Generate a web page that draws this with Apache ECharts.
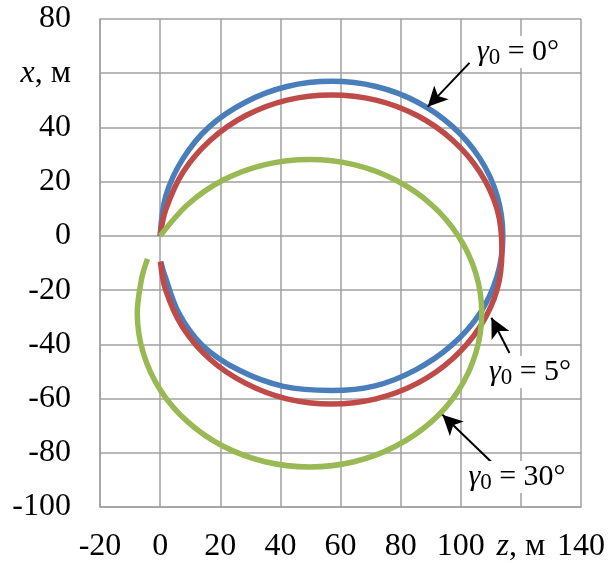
<!DOCTYPE html>
<html>
<head>
<meta charset="utf-8">
<script src="https://cdn.jsdelivr.net/npm/echarts@6/dist/echarts.min.js"></script>
<style>
  html, body { margin: 0; padding: 0; background: #fff; }
  #chart { width: 608px; height: 563px; }
</style>
</head>
<body>
<div id="chart"></div>
<script>
// Axis ranges (z — horizontal, x — vertical), metres
const zRange = [-20, 140];
const xRange = [-100, 80];
const tickStep = 20;

// Turning trajectories, points as [z, x]
const traj0 = [
  [0, 0], [1.9, 14.8], [7.6, 28.5], [16.4, 40.3], [28.5, 49.4], [42.2, 55.1],
  [57, 57], [71.8, 55.1], [85.5, 49.4], [97.3, 40.3], [106.4, 28.5], [112.1, 14.8],
  [114, 0], [112.1, -14.8], [106.4, -28.5], [97, -40.3], [85, -49.4], [71.5, -55.3],
  [57, -57], [41, -55.5], [26, -49.4], [14, -40.3], [6.2, -28.5], [1.6, -14.8], [0.2, -9.5]
];
const traj5 = [
  [0, 0], [1.9, 9.8], [7.6, 23.5], [16.7, 35.3], [28.5, 44.4], [42.2, 50.1],
  [57, 52], [71.8, 50.1], [85.5, 44.4], [97.3, 35.3], [106.4, 23.5], [112.1, 9.8],
  [113.7, -5], [112.1, -19.8], [106.4, -33.5], [97.3, -45.3], [85.5, -54.4], [71.8, -60.1],
  [57, -62], [42.2, -60.1], [28.5, -54.4], [16.4, -45.3], [7.4, -33.5], [1.8, -19.8], [0.1, -9.5]
];
const traj30 = [
  [0, 0], [9.2, 11.6], [21, 20.6], [34.9, 26.3], [49.7, 28.2], [64.5, 26.3],
  [78.3, 20.6], [90.2, 11.6], [99.3, -0.2], [105, -13.8], [107, -28.5], [105, -43.2],
  [99.3, -56.9], [90.2, -68.6], [78.3, -77.6], [64.5, -83.3], [49.7, -85.2], [34.9, -83.3],
  [21, -77.6], [9.2, -68.6], [0.1, -56.9], [-5.6, -43.2], [-7.6, -28.5], [-6.2, -16], [-4.2, -8.5]
];

// Callout arrows: [from, to] in data coordinates
const arrows = [
  [[102.9, 63.8], [89, 47.6]],
  [[116.2, -43.2], [110.2, -30.2]],
  [[110.2, -83.4], [93.9, -66]]
];
const callouts = ['0°', '5°', '30°'];

const serif = 'Liberation Serif, Times New Roman, serif';
const gridColor = '#a0a0a0';

const chart = echarts.init(document.getElementById('chart'), null, { renderer: 'canvas' });

function calloutText(angle, cx, cy) {
  return {
    type: 'text',
    x: cx,
    y: cy,
    z: 100,
    style: {
      text: '{g|γ}{s|0}{n| = ' + angle + '}',
      align: 'center',
      verticalAlign: 'middle',
      backgroundColor: '#fff',
      padding: [0, 3, 0, 3],
      rich: {
        g: { fontFamily: serif, fontSize: 30, fontStyle: 'italic', lineHeight: 32, fill: '#000' },
        s: { fontFamily: serif, fontSize: 23, lineHeight: 21, padding: [11, 0, 0, 0], fill: '#000' },
        n: { fontFamily: serif, fontSize: 30, lineHeight: 32, fill: '#000' }
      }
    }
  };
}

const lineSeries = (name, data, color) => ({
  name,
  type: 'line',
  data,
  showSymbol: false,
  smooth: 0.34,
  lineStyle: { color, width: 5.5 },
  itemStyle: { color },
  z: 3
});

chart.setOption({
  animation: false,
  backgroundColor: '#fff',
  grid: { left: 100, right: 26, top: 19, bottom: 56, containLabel: false },
  xAxis: {
    type: 'value',
    min: zRange[0], max: zRange[1], interval: tickStep,
    axisLine: { show: true, onZero: false, lineStyle: { color: gridColor, width: 1.5 } },
    axisTick: { show: false },
    splitLine: { show: true, lineStyle: { color: gridColor, width: 1.5 } },
    axisLabel: {
      margin: 24,
      fontFamily: serif, fontSize: 32, color: '#000',
      formatter: v => (v === 120 ? '{i|z}, м' : String(v)),
      rich: { i: { fontFamily: serif, fontSize: 32, fontStyle: 'italic', color: '#000' } }
    }
  },
  yAxis: {
    type: 'value',
    min: xRange[0], max: xRange[1], interval: tickStep,
    axisLine: { show: true, onZero: false, lineStyle: { color: gridColor, width: 1.5 } },
    axisTick: { show: false },
    splitLine: { show: true, lineStyle: { color: gridColor, width: 1.5 } },
    axisLabel: {
      margin: 29,
      fontFamily: serif, fontSize: 32, color: '#000',
      formatter: v => (v === 60 ? '{i|x}, м' : String(v)),
      rich: { i: { fontFamily: serif, fontSize: 32, fontStyle: 'italic', color: '#000' } }
    }
  },
  series: [
    lineSeries('γ0 = 0°', traj0, '#4a7ebb'),
    lineSeries('γ0 = 5°', traj5, '#be4b48'),
    lineSeries('γ0 = 30°', traj30, '#98b954'),
    {
      type: 'line',
      data: [],
      silent: true,
      markLine: {
        silent: true,
        symbol: ['none', 'arrow'],
        symbolSize: [15, 20],
        label: { show: false },
        lineStyle: { color: '#000', width: 2, type: 'solid' },
        data: arrows.map(([a, b]) => [{ coord: a }, { coord: b }])
      },
      z: 5
    }
  ],
  graphic: [
    calloutText(callouts[0], 518, 52),
    calloutText(callouts[1], 530, 372),
    calloutText(callouts[2], 517, 477)
  ]
});
</script>
</body>
</html>
